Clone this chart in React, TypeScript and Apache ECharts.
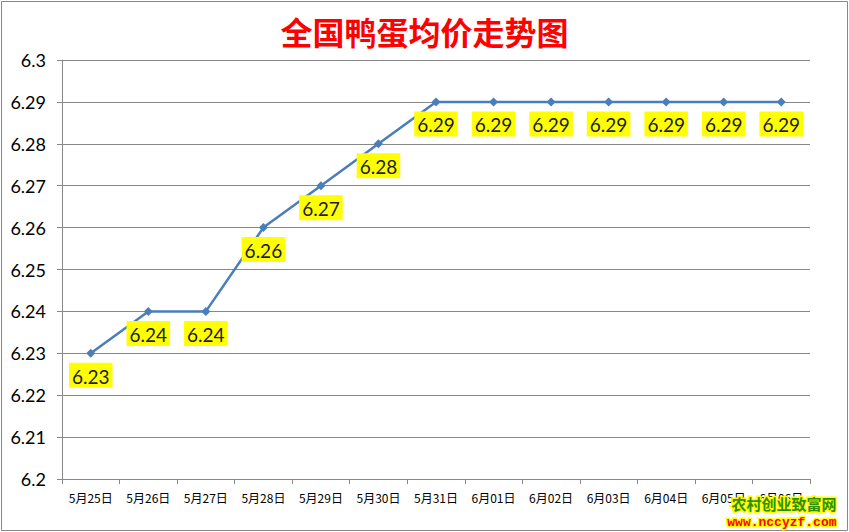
import React, { useEffect, useRef } from "react";
import * as echarts from "echarts";

const categories = ["5月25日", "5月26日", "5月27日", "5月28日", "5月29日", "5月30日", "5月31日", "6月01日", "6月02日", "6月03日", "6月04日", "6月05日", "6月06日"];
const prices = [6.23, 6.24, 6.24, 6.26, 6.27, 6.28, 6.29, 6.29, 6.29, 6.29, 6.29, 6.29, 6.29];
const titleText = "全国鸭蛋均价走势图";
const watermarkName = "农村创业致富网";
const watermarkUrl = "www.nccyzf.com";

export default function App() {
  const ref = useRef<HTMLDivElement>(null);
  useEffect(() => {
    if (!ref.current) return;
    const chart = echarts.init(ref.current, undefined, { renderer: "svg" });
    chart.setOption({
      animation: false,
      backgroundColor: "#ffffff",
      title: {
        text: titleText,
        left: "center",
        top: 10,
        textStyle: {
          color: "#ff0000",
          fontSize: 32,
          fontWeight: "bold",
          fontFamily: "Noto Sans CJK SC",
        },
      },
      grid: { left: 62, right: 39, top: 60, bottom: 53 },
      xAxis: {
        type: "category",
        data: categories,
        boundaryGap: true,
        axisLine: { lineStyle: { color: "#888888", width: 1 } },
        axisTick: { show: true, alignWithLabel: false, length: 5, lineStyle: { color: "#888888" } },
        axisLabel: {
          color: "#000000",
          fontSize: 12,
          fontFamily: "Noto Sans CJK SC",
          margin: 12,
          interval: 0,
        },
      },
      yAxis: {
        type: "value",
        min: 6.2,
        max: 6.3,
        interval: 0.01,
        axisLine: { show: true, lineStyle: { color: "#888888", width: 1 } },
        axisTick: { show: true, length: 5, lineStyle: { color: "#888888" } },
        splitLine: { lineStyle: { color: "#888888", width: 1 } },
        axisLabel: {
          color: "#000000",
          fontSize: 18,
          fontFamily: "Lato",
          margin: 16,
          formatter: (v: number) => String(parseFloat(v.toFixed(2))),
        },
      },
      series: [
        {
          type: "line",
          data: prices,
          symbol: "diamond",
          symbolSize: 9,
          lineStyle: { color: "#4a7ebb", width: 2.5 },
          itemStyle: { color: "#4a7ebb" },
          label: {
            show: true,
            position: "bottom",
            distance: 5,
            color: "#1a1a3a",
            fontSize: 19,
            fontFamily: "Lato",
            backgroundColor: "#ffff00",
            padding: [4, 3, 2, 3],
            formatter: (p: any) => p.value.toFixed(2),
          },
        },
      ],
      graphic: [
        {
          type: "rect",
          shape: { x: 1.5, y: 1.5, width: 846, height: 529 },
          style: { fill: "none", stroke: "#888888", lineWidth: 1 },
          silent: true,
        },
        {
          type: "text",
          right: 11,
          top: 494,
          style: {
            text: watermarkName,
            fill: "#2f8f00",
            stroke: "#ffff00",
            lineWidth: 3,
            fontSize: 15,
            fontWeight: "bold",
            fontFamily: "Noto Sans CJK SC",
          },
          z: 100,
        },
        {
          type: "text",
          right: 11,
          top: 514,
          style: {
            text: watermarkUrl,
            fill: "#ff0000",
            stroke: "#ffff00",
            lineWidth: 3,
            fontSize: 13,
            fontWeight: "bold",
            fontFamily: "Liberation Mono",
          },
          z: 100,
        },
      ],
    });
    return () => chart.dispose();
  }, []);
  return (
    <div
      ref={ref}
      style={{ position: "fixed", left: 0, top: 0, width: 849, height: 532 }}
    />
  );
}
